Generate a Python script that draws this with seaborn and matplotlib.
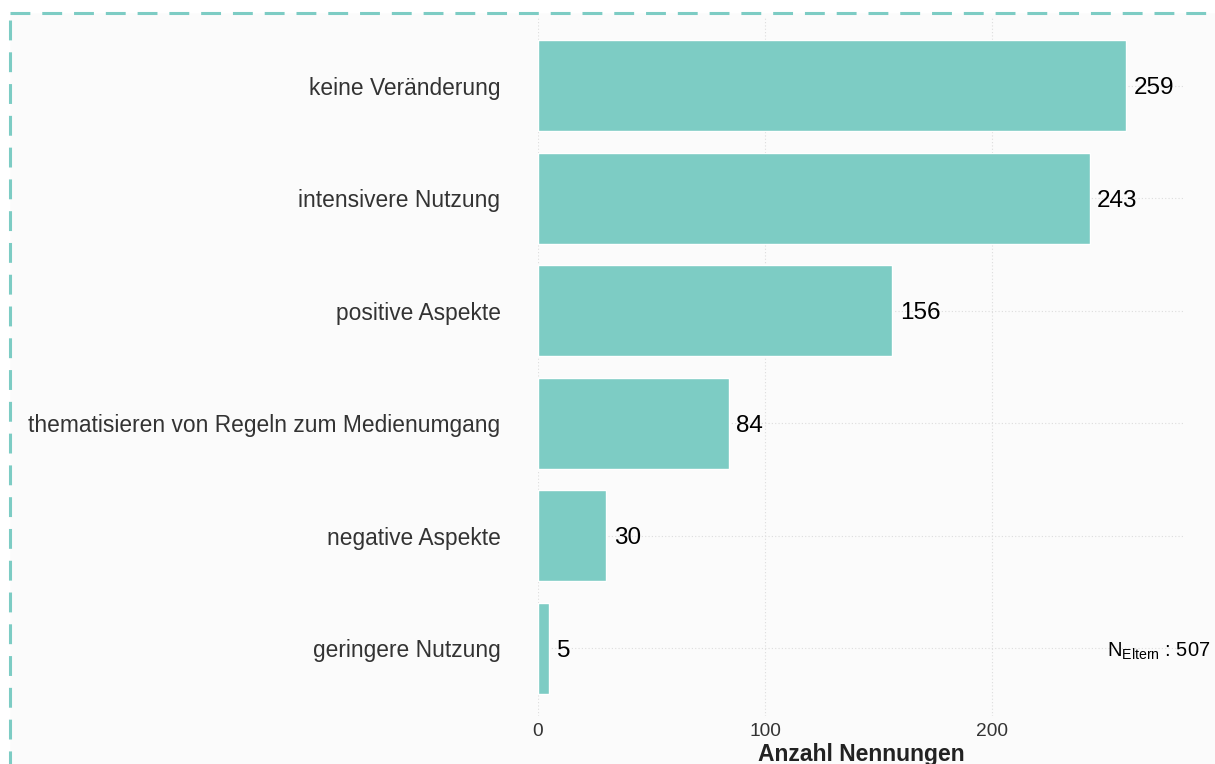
import matplotlib
matplotlib.use("Agg")
import matplotlib.pyplot as plt
import seaborn as sns
import pandas as pd
from matplotlib.patches import Rectangle

categories = [
    "keine Veränderung",
    "intensivere Nutzung",
    "positive Aspekte",
    "thematisieren von Regeln zum Medienumgang",
    "negative Aspekte",
    "geringere Nutzung",
]
counts = [259, 243, 156, 84, 30, 5]
x_ticks = [0, 100, 200]
n_eltern = 507

teal = "#7DCCC4"
panel_bg = "#FBFBFB"

sns.set_theme(style="white")
plt.rcParams["font.family"] = ["Liberation Sans", "DejaVu Sans"]

df = pd.DataFrame({"Kategorie": categories, "Anzahl": counts})

fig = plt.figure(figsize=(12.15, 7.64), dpi=100)
fig.patch.set_facecolor("white")
W, H = 1215, 764

# background layer with the dashed frame (runs off the right and bottom edge)
bg = fig.add_axes([0, 0, 1, 1], zorder=-10)
bg.set_axis_off()
bg.set_xlim(0, W)
bg.set_ylim(H, 0)
bg.add_patch(Rectangle((10, 13), W + 50, H + 50, facecolor=panel_bg,
                       edgecolor=teal, linewidth=2.2, linestyle=(0, (6.5, 3.9)),
                       clip_on=False))

ax = fig.add_axes([538 / W, 1 - 716 / H, (1185 - 538) / W, (716 - 18) / H])
ax.set_facecolor("none")

sns.barplot(data=df, x="Anzahl", y="Kategorie", orient="h", color=teal,
            saturation=1, width=0.81, ax=ax, zorder=3)

ax.set_xlim(0, 285)
ax.set_ylim(len(categories) - 0.4, -0.6)

for i, v in enumerate(counts):
    ax.text(v + 3.3, i, str(v), va="center_baseline", ha="left", fontsize=17.5,
            color="black", zorder=4)

# dotted grid
for x in x_ticks:
    ax.axvline(x, color="#DDDDDD", linestyle=(0, (1, 2)), linewidth=0.8, zorder=1)
for i in range(len(categories)):
    ax.axhline(i, color="#DDDDDD", linestyle=(0, (1, 2)), linewidth=0.8, zorder=1)

ax.set_xticks(x_ticks)
ax.set_xticklabels([str(t) for t in x_ticks], fontsize=13.8, color="#333333")
ax.tick_params(axis="x", length=0, pad=5)
ax.tick_params(axis="y", length=0, pad=27, labelsize=16.4, labelcolor="#333333")
ax.set_ylabel("")
ax.set_xlabel("Anzahl Nennungen", fontsize=16.5, fontweight="bold", color="#222222",
              labelpad=2)
for s in ax.spines.values():
    s.set_visible(False)

ax.text(296, len(categories) - 1, r"$\mathregular{N_{Eltern}}$ : " + str(n_eltern),
        ha="right", va="center_baseline", fontsize=14.5, color="black",
        clip_on=False, zorder=4)

fig.savefig("out.png", dpi=100)
